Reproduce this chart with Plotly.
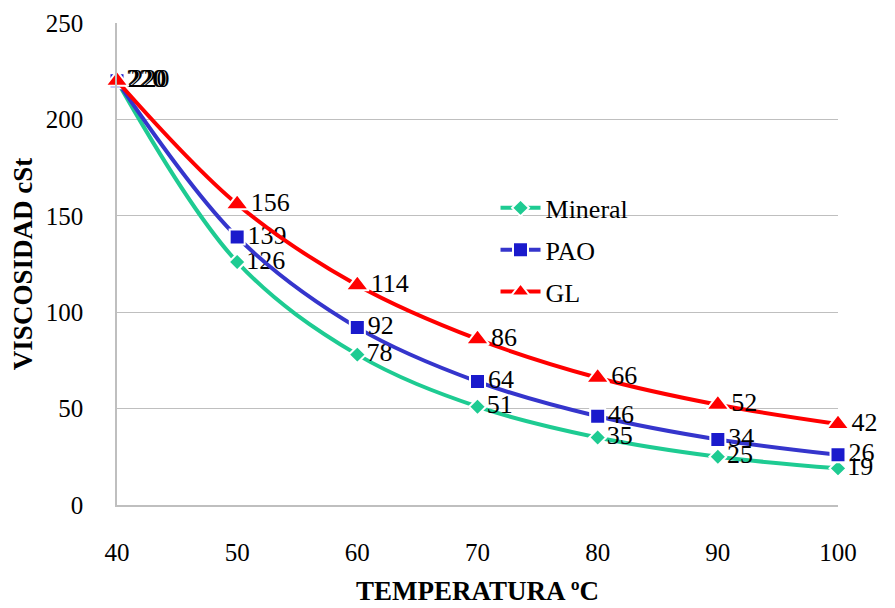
import plotly.graph_objects as go

temps = [40, 50, 60, 70, 80, 90, 100]
mineral = [220, 126, 78, 51, 35, 25, 19]
pao = [220, 139, 92, 64, 46, 34, 26]
gl = [220, 156, 114, 86, 66, 52, 42]

FONT = "Liberation Serif, Times New Roman, Tinos, DejaVu Serif, serif"

fig = go.Figure()

series = [
    ("Mineral", mineral, "#1ECB92", "#1ECB92", "diamond", 13),
    ("PAO", pao, "#3535CC", "#1A1ACC", "square", 15),
    ("GL", gl, "#FF0000", "#FF0000", "triangle-up", 20),
]
for i, (name, vals, lc, mc, sym, sz) in enumerate(series):
    fig.add_trace(go.Scatter(
        x=temps, y=vals, name=name, legendgroup=name,
        mode="lines+markers+text",
        text=[str(v) for v in vals],
        textposition="middle right",
        textfont=dict(family=FONT, size=26, color="black"),
        line=dict(color=lc, width=4, shape="spline", smoothing=1),
        marker=dict(symbol=sym, size=sz, color=mc,
                    line=dict(color="white", width=2)),
        cliponaxis=False,
    ))

fig.update_layout(
    width=895, height=608,
    margin=dict(l=109, r=65, t=15, b=111),
    paper_bgcolor="white", plot_bgcolor="white",
    font=dict(family=FONT, size=25, color="black"),
    showlegend=True,
    legend=dict(x=0.525, y=0.665, xanchor="left", yanchor="top",
                bgcolor="rgba(0,0,0,0)", font=dict(family=FONT, size=26),
                tracegroupgap=5, itemwidth=40),
    xaxis=dict(range=[40, 100], tickmode="array", tickvals=temps,
               showgrid=False, zeroline=False, automargin=False,
               showline=True, linecolor="#BFBFBF", linewidth=1.5,
               ticks="", ticklabelstandoff=24,
               tickfont=dict(family=FONT, size=25),
               title=dict(text="<b>TEMPERATURA ºC</b>", standoff=16,
                          font=dict(family=FONT, size=27))),
    yaxis=dict(range=[0, 250], dtick=50,
               showgrid=True, gridcolor="#BFBFBF", gridwidth=1,
               zeroline=False, showline=True, linecolor="#BFBFBF", linewidth=1.5,
               ticks="", ticklabelstandoff=27, automargin=False,
               tickfont=dict(family=FONT, size=25),
               title=dict(text="<b>VISCOSIDAD cSt</b>", standoff=6,
                          font=dict(family=FONT, size=27))),
    annotations=[dict(text="<b>COMPARATIVO DE VISCOSIDAD</b>",
                      xref="paper", yref="paper", x=0.51, y=1.028,
                      xanchor="center", yanchor="bottom", showarrow=False,
                      font=dict(family=FONT, size=29, color="black"))],
)

fig.write_html("out.html")
